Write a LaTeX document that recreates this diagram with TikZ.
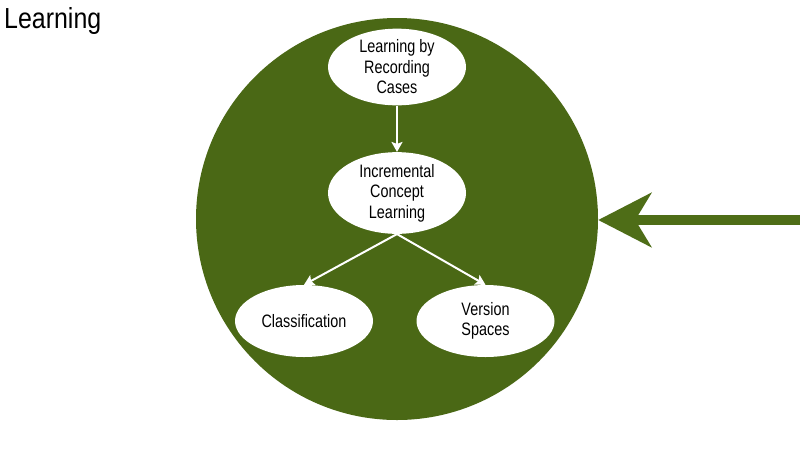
\documentclass[tikz,border=0pt]{standalone}
\usepackage{fontspec}
\setmainfont{Liberation Sans}[FakeStretch=0.86]
\newfontfamily\narrowsans{Liberation Sans}[FakeStretch=0.8]
\usetikzlibrary{shapes.geometric,arrows.meta}
\definecolor{leaf}{HTML}{4A6815}
\definecolor{leafarrow}{HTML}{4E6D17}
\tikzset{
  topic/.style={ellipse, fill=white, draw=none, inner sep=0pt,
    minimum width=138pt, minimum height=68pt, align=center,
    font=\narrowsans\fontsize{18}{20.5}\selectfont, text=black},
  flow/.style={draw=white, line width=2pt,
    -{Stealth[length=10pt,width=11pt,inset=2pt]}},
  bigarrow/.style={draw=leafarrow, line width=10pt,
    -{Stealth[length=53pt,width=54pt,inset=16pt]}}
}
\begin{document}
\begin{tikzpicture}[x=1pt,y=-1pt]
\useasboundingbox (0,0) rectangle (800,448);
\fill[white] (0,0) rectangle (800,448);

% title
\node[anchor=base west, inner sep=0pt, font=\fontsize{29}{34}\selectfont]
  (title) at (4,28) {Learning};

% the large green disc holding the learning topics
\node[circle, fill=leaf, minimum size=402pt, inner sep=0pt] (disc) at (397,219) {};

% topics
\node[topic] (cases) at (397,67) {Learning by\\Recording\\Cases};
\node[topic] (icl) at (397,193) {Incremental\\Concept\\Learning};
\node[topic, minimum height=72pt] (class) at (304,321) {Classification};
\node[topic, minimum height=72pt] (version) at (485.5,321) {Version\\Spaces};

% connections between topics
\draw[flow] (cases.south) -- (icl.north);
\draw[flow] (icl.south) -- (class.north);
\draw[flow] (icl.south) -- (version.north);

% incoming arrow from the right
\coordinate (feed) at (800,220);
\draw[bigarrow] (feed) -- (disc.east |- feed);
\end{tikzpicture}
\end{document}
